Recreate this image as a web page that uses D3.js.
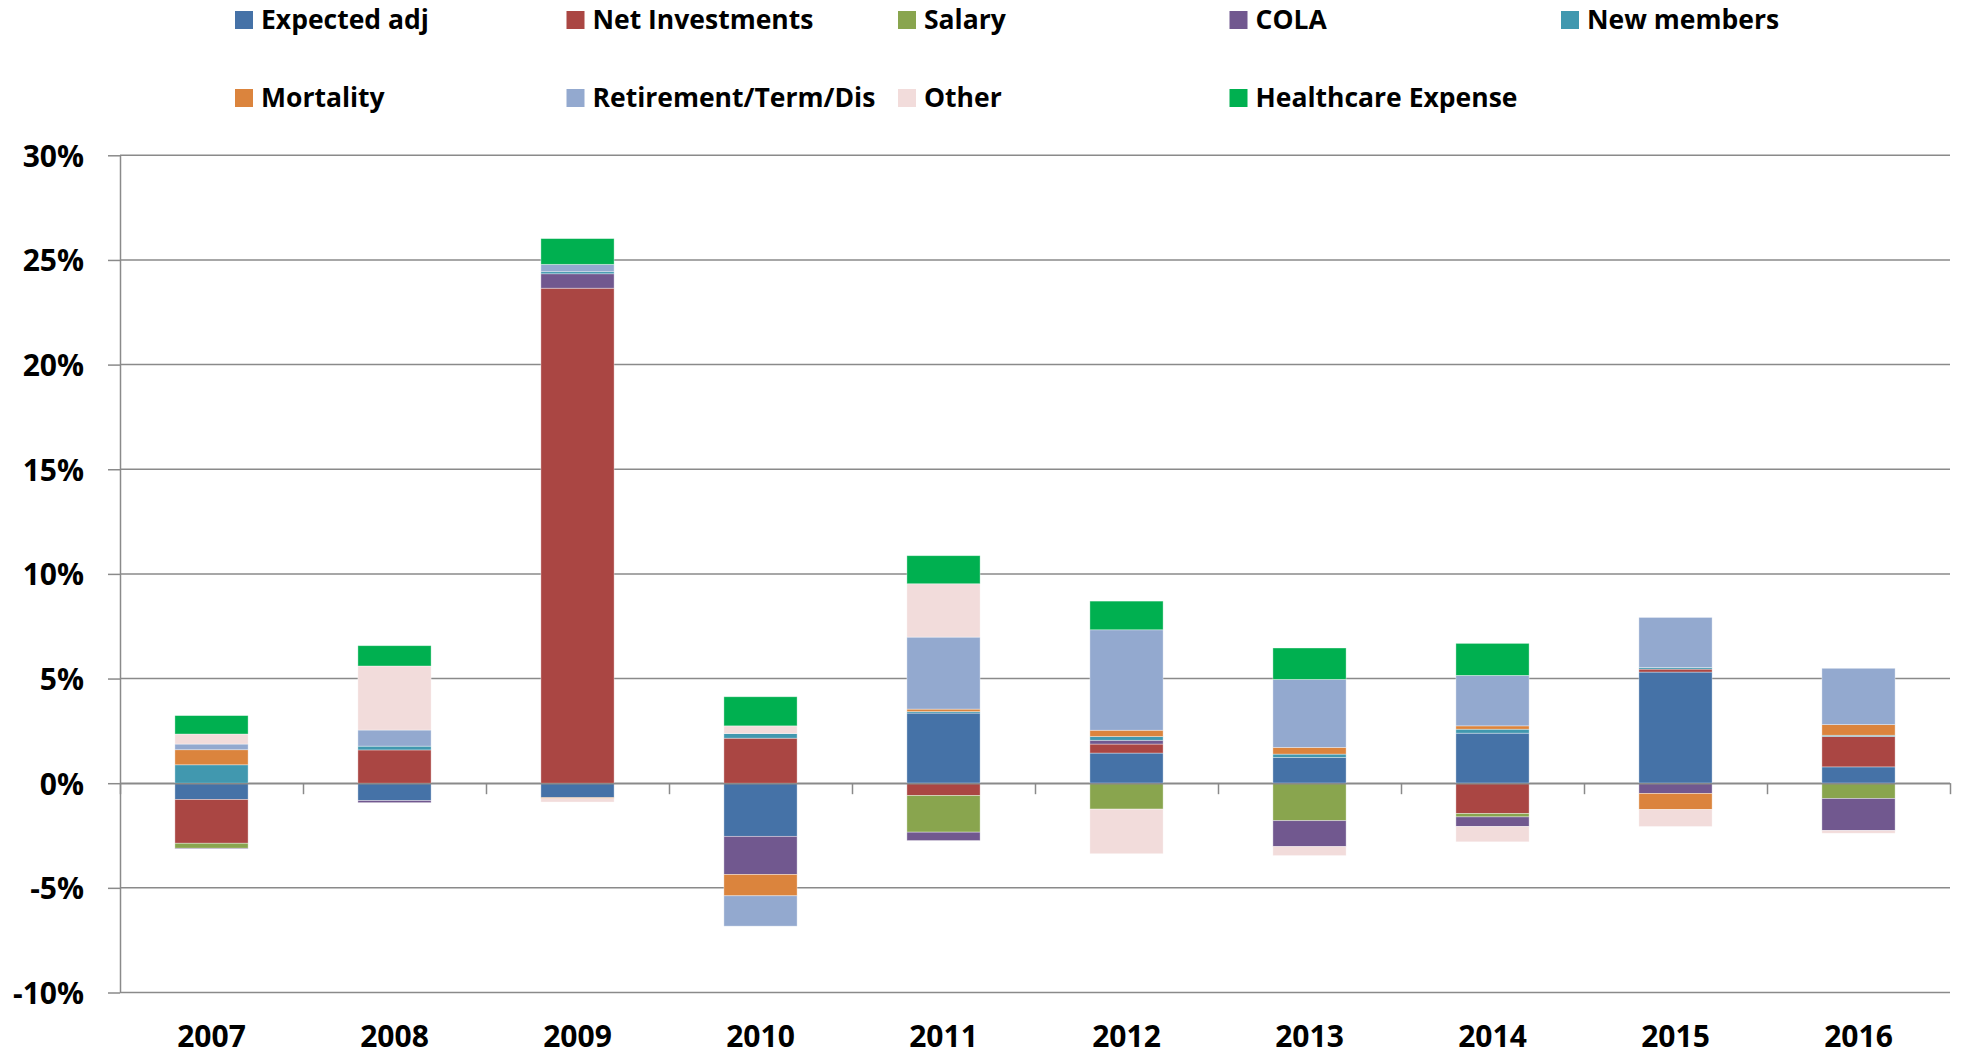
<!DOCTYPE html>
<html>
<head>
<meta charset="utf-8">
<script src="https://cdn.jsdelivr.net/npm/d3@7"></script>
<style>
  body { margin: 0; background: #fff; }
  svg text { font-family: "Open Sans", "Liberation Sans", sans-serif; font-weight: 700; fill: #000; }
</style>
</head>
<body>
<svg id="chart" width="1961" height="1057"></svg>
<script>
const width = 1961;
const height = 1057;

// data (percent)
const years = ["2007", "2008", "2009", "2010", "2011", "2012", "2013", "2014", "2015", "2016"];
const seriesNames = ["Expected adj", "Net Investments", "Salary", "COLA", "New members",
  "Mortality", "Retirement/Term/Dis", "Other", "Healthcare Expense"];
const colors = ["#4572A7", "#AA4643", "#89A54E", "#71588F", "#4198AF",
  "#DB843D", "#93A9CF", "#F2DCDB", "#00B050"];

const expectedAdj    = [-0.78, -0.83, -0.69, -2.54, 3.35, 1.44, 1.23, 2.39, 5.31, 0.78];
const netInvestments = [-2.09, 1.59, 23.65, 2.15, -0.59, 0.43, 0, -1.45, 0.14, 1.45];
const salary         = [-0.24, 0, 0, 0, -1.75, -1.24, -1.79, -0.16, 0, -0.73];
const cola           = [-0.03, -0.10, 0.69, -1.82, -0.40, 0.18, -1.24, -0.46, -0.49, -1.53];
const newMembers     = [0.88, 0.18, 0.10, 0.22, 0.07, 0.18, 0.16, 0.19, 0.08, 0.06];
const mortality      = [0.72, 0, -0.05, -1.02, 0.12, 0.30, 0.32, 0.16, -0.77, 0.51];
const retirement     = [0.27, 0.77, 0.35, -1.45, 3.44, 4.80, 3.25, 2.41, 2.39, 2.69];
const other          = [0.48, 3.06, -0.16, 0.37, 2.55, -2.13, -0.43, -0.73, -0.81, -0.13];
const healthcare     = [0.88, 0.97, 1.23, 1.39, 1.34, 1.37, 1.50, 1.53, 0, 0];

const yTicks = [-10, -5, 0, 5, 10, 15, 20, 25, 30];

const seriesValues = [expectedAdj, netInvestments, salary, cola, newMembers,
  mortality, retirement, other, healthcare];

// rows for d3.stack
const table = years.map((yr, i) => {
  const row = { year: yr };
  seriesNames.forEach((s, j) => { row[s] = seriesValues[j][i]; });
  return row;
});

const svg = d3.select("#chart");

const plotLeft = 120;
const plotRight = 1950;

const x = d3.scaleBand().domain(years).range([plotLeft, plotRight]).padding(0);
const y = d3.scaleLinear().domain([-10, 30]).range([992.5, 155.3]);

// gridlines
svg.append("g")
  .attr("class", "grid")
  .selectAll("line")
  .data(yTicks)
  .enter()
  .append("line")
  .attr("x1", plotLeft)
  .attr("x2", plotRight)
  .attr("y1", (d) => y(d))
  .attr("y2", (d) => y(d))
  .style("stroke", "#8a8a8a")
  .style("stroke-width", 1.5);

// y axis
const yAxis = svg.append("g")
  .attr("transform", `translate(${plotLeft},0)`)
  .call(d3.axisLeft(y).tickValues(yTicks).tickSize(12).tickSizeOuter(0).tickPadding(24)
    .tickFormat((d) => d + "%"));
yAxis.select(".domain").style("stroke", "#8a8a8a").style("stroke-width", 1.5);
yAxis.selectAll(".tick line").style("stroke", "#8a8a8a").style("stroke-width", 1.5);
yAxis.selectAll(".tick text").style("font-size", "30px").attr("dy", "0.36em");

// bars
const stack = d3.stack().keys(seriesNames).offset(d3.stackOffsetDiverging);
const layers = stack(table);

const barW = x.bandwidth() * 0.4;

svg.append("g")
  .attr("class", "bars")
  .selectAll("g")
  .data(layers)
  .enter()
  .append("g")
  .attr("fill", (d, i) => colors[i])
  .selectAll("rect")
  .data((d) => d.filter((p) => p[1] - p[0] !== 0))
  .enter()
  .append("rect")
  .attr("x", (d) => x(d.data.year) + (x.bandwidth() - barW) / 2)
  .attr("width", barW)
  .attr("y", (d) => y(Math.max(d[0], d[1])))
  .attr("height", (d) => Math.abs(y(d[0]) - y(d[1])))
  .style("stroke", "rgba(255,255,255,0.45)")
  .style("stroke-width", 0.8);

// x axis at zero with ticks between categories
const xEdges = d3.scaleLinear().domain([0, years.length]).range([plotLeft, plotRight]);
const xAxis = svg.append("g")
  .attr("transform", `translate(0,${y(0)})`)
  .call(d3.axisBottom(xEdges).ticks(years.length).tickFormat("").tickSize(11).tickSizeOuter(0));
xAxis.select(".domain").style("stroke", "#8a8a8a").style("stroke-width", 1.5);
xAxis.selectAll(".tick line").style("stroke", "#8a8a8a").style("stroke-width", 1.5);

// category labels along the bottom
svg.append("g")
  .selectAll("text")
  .data(years)
  .enter()
  .append("text")
  .attr("x", (d) => x(d) + x.bandwidth() / 2)
  .attr("y", 1047)
  .attr("text-anchor", "middle")
  .style("font-size", "30px")
  .text((d) => d);

// legend, two rows of five columns
const legend = svg.append("g")
  .attr("class", "legend")
  .selectAll("g")
  .data(seriesNames)
  .enter()
  .append("g")
  .attr("transform", (d, i) => `translate(${235 + (i % 5) * 331.5},${i < 5 ? 11 : 89})`);

legend.append("rect")
  .attr("width", 18)
  .attr("height", 18)
  .attr("fill", (d, i) => colors[i]);

legend.append("text")
  .attr("x", 26)
  .attr("y", 18)
  .style("font-size", "26.5px")
  .text((d) => d);
</script>
</body>
</html>
